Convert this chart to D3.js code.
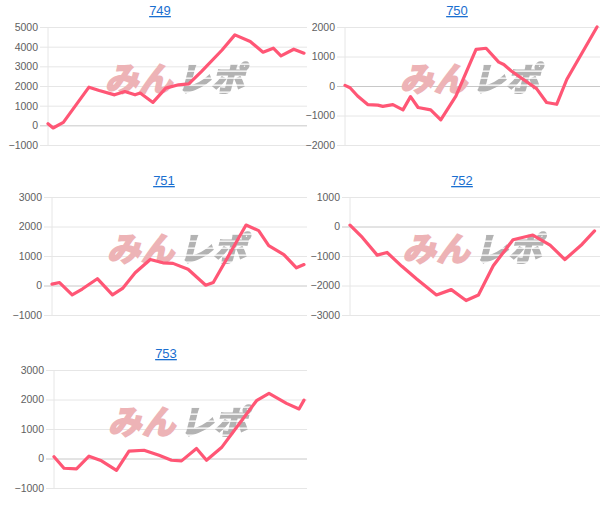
<!DOCTYPE html>
<head>
<meta charset="utf-8">
<title>Small multiples</title>
<script src="https://d3js.org/d3.v7.min.js"></script>
<style>
  body { margin: 0; background: #fff; }
</style>
</head>
<body>
<div id="chart"></div>
<script>
// titles of the five panels
var titles = ["749", "750", "751", "752", "753"];

// y ticks of each panel
var ticks749 = [5000, 4000, 3000, 2000, 1000, 0, -1000];
var ticks750 = [2000, 1000, 0, -1000, -2000];
var ticks751 = [3000, 2000, 1000, 0, -1000];
var ticks752 = [1000, 0, -1000, -2000, -3000];
var ticks753 = [3000, 2000, 1000, 0, -1000];

// position along the x axis (0 = first game, 100 = last) and value
var days749 = [0, 2, 6, 16, 20, 26, 30, 34, 36, 41, 46, 51, 55, 60, 68, 73, 79, 84, 88, 91, 96, 100];
var vals749 = [80, -135, 150, 1940, 1770, 1550, 1720, 1550, 1640, 1165, 1890, 2060, 2110, 2740, 3830, 4600, 4260, 3720, 3920, 3530, 3870, 3670];

var days750 = [0, 2, 5, 9, 13, 15, 19, 23, 26, 29, 34, 38, 44, 52, 56, 61, 63, 66, 76, 80, 84, 88, 100];
var vals750 = [20, -60, -340, -630, -650, -690, -630, -810, -360, -730, -810, -1150, -340, 1240, 1280, 810, 730, 510, -90, -560, -620, 220, 2000];

var days751 = [0, 3, 8, 12, 18, 24, 28, 33, 39, 44, 48, 54, 61, 64, 77, 82, 86, 92, 97, 100];
var vals751 = [45, 100, -320, -120, 230, -320, -100, 430, 880, 770, 750, 550, 10, 100, 2050, 1860, 1350, 1050, 600, 710];

var days752 = [0, 5, 11, 15, 21, 27, 35, 41, 47, 52, 58, 66, 74, 81, 87, 94, 99];
var vals752 = [45, -370, -970, -880, -1350, -1780, -2320, -2140, -2510, -2320, -1330, -450, -290, -630, -1120, -600, -150];

var days753 = [0, 4, 9, 14, 19, 25, 30, 36, 42, 47, 51, 57, 61, 67, 75, 81, 86, 93, 98, 100];
var vals753 = [60, -330, -350, 80, -80, -400, 250, 280, 110, -60, -80, 340, -60, 370, 1280, 1960, 2210, 1870, 1680, 1980];

var allTicks = [ticks749, ticks750, ticks751, ticks752, ticks753];
var allDays = [days749, days750, days751, days752, days753];
var allVals = [vals749, vals750, vals751, vals752, vals753];

// layout of the panels
var panelTop = [0, 0, 170, 170, 343];
var plotLeft = [48, 345, 52, 350, 54];
var plotRight = [304, 597, 304, 597, 304];
var gridRight = [307, 600, 307, 600, 307];

var svg = d3.select("#chart").append("svg")
    .attr("width", 606)
    .attr("height", 518);

// stripes used on the grey half of the watermark
var defs = svg.append("defs");
var pat = defs.append("pattern")
    .attr("id", "stripes")
    .attr("patternUnits", "userSpaceOnUse")
    .attr("width", 8).attr("height", 7);
pat.append("rect").attr("width", 8).attr("height", 7).attr("fill", "#fff");
pat.append("rect").attr("y", 5.5).attr("width", 8).attr("height", 1.3).attr("fill", "#000");
defs.append("mask").attr("id", "wm-mask")
  .append("rect")
    .attr("x", -200).attr("y", -60).attr("width", 400).attr("height", 120)
    .attr("fill", "url(#stripes)");

var wmFont = function(sel) {
  sel.attr("dy", "0.36em")
     .attr("transform", "skewX(-14)")
     .attr("stroke-width", 2.2)
     .attr("stroke-linejoin", "miter")
     .style("font-family", "'Noto Sans CJK JP', sans-serif")
     .style("font-weight", 700)
     .style("font-size", "33px")
     .style("letter-spacing", "1px");
};

titles.forEach(function(t, i) {
  var top = panelTop[i];
  var ticks = allTicks[i];

  var y = d3.scaleLinear()
      .domain([d3.min(ticks), d3.max(ticks)])
      .range([top + 145, top + 27]);
  var x = d3.scaleLinear()
      .domain([0, 100])
      .range([plotLeft[i], plotRight[i]]);

  var g = svg.append("g");

  // y axis with grid lines
  var axis = g.append("g")
      .attr("transform", "translate(" + plotLeft[i] + ",0)")
      .call(d3.axisLeft(y)
        .tickValues(ticks)
        .tickSize(-(gridRight[i] - plotLeft[i]))
        .tickPadding(10)
        .tickFormat(d3.format("d")));
  axis.select(".domain").remove();
  axis.selectAll(".tick line")
      .attr("x1", -8)
      .attr("stroke", function(d) { return d === 0 ? "#c8c8c8" : "#e6e6e6"; });
  axis.selectAll(".tick text")
      .attr("fill", "#5f5f5f")
      .style("font-family", "'Liberation Sans', Arial, sans-serif")
      .style("font-size", "10.5px");

  g.append("line")
      .attr("x1", plotLeft[i]).attr("x2", plotLeft[i])
      .attr("y1", top + 27).attr("y2", top + 145)
      .attr("stroke", "#e6e6e6");

  // title
  g.append("text")
      .attr("x", plotLeft[i] + 112)
      .attr("y", top + 15)
      .attr("text-anchor", "middle")
      .attr("fill", "#1a6fd0")
      .style("font-family", "'Liberation Sans', Arial, sans-serif")
      .style("font-size", "13px")
      .style("text-decoration", "underline")
      .text(t);

  // watermark
  var wm = g.append("g")
      .attr("transform", "translate(" + ((plotLeft[i] + plotRight[i]) / 2) + "," + (top + 79) + ")");
  wm.append("text")
      .call(wmFont)
      .attr("text-anchor", "end")
      .attr("x", 0)
      .attr("fill", "#edb3b6").attr("stroke", "#edb3b6")
      .text("みん");
  wm.append("g")
      .attr("mask", "url(#wm-mask)")
    .append("text")
      .call(wmFont)
      .attr("text-anchor", "start")
      .attr("x", 4)
      .attr("fill", "#b3b3b3").attr("stroke", "#b3b3b3")
      .text("レポ");

  // line
  var pts = allDays[i].map(function(d, k) { return [d, allVals[i][k]]; });
  g.append("path")
      .datum(pts)
      .attr("fill", "none")
      .attr("stroke", "#ff5675")
      .attr("stroke-width", 3.2)
      .attr("stroke-linejoin", "round")
      .attr("stroke-linecap", "round")
      .attr("d", d3.line()
        .x(function(d) { return x(d[0]); })
        .y(function(d) { return y(d[1]); }));
});
</script>
</body>
